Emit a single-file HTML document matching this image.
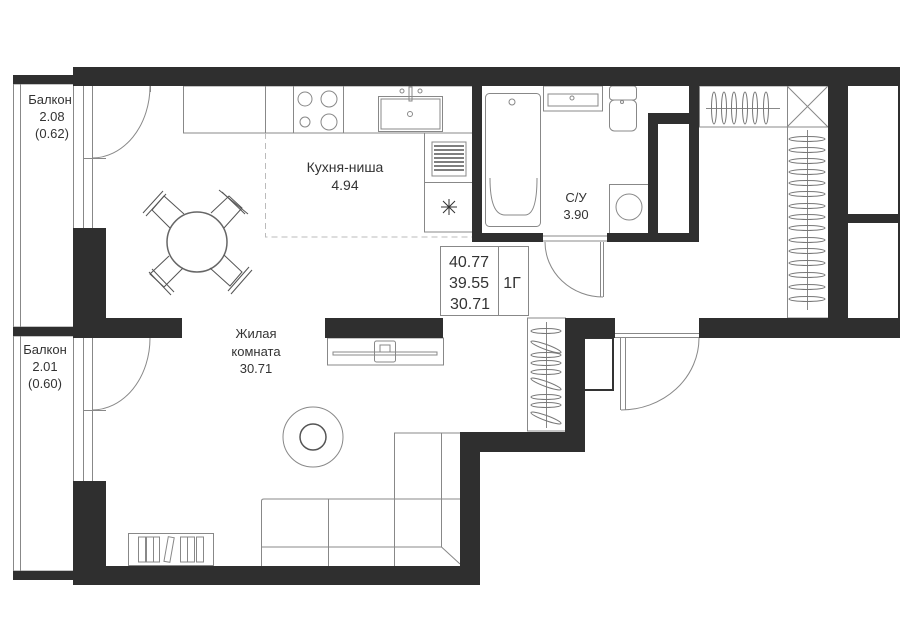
<!DOCTYPE html>
<html><head><meta charset="utf-8"><style>
html,body{margin:0;padding:0;background:#fff;}
svg{display:block;}
text{font-family:"Liberation Sans",sans-serif;fill:#333;text-anchor:middle;}
</style></head><body>
<svg width="900" height="623" viewBox="0 0 900 623" xmlns="http://www.w3.org/2000/svg">
<g fill="none" stroke="#888" stroke-width="1">
<rect x="13.5" y="84" width="60" height="243"/>
<line x1="20.5" y1="84" x2="20.5" y2="327"/>
<rect x="13.5" y="336" width="60" height="235"/>
<line x1="20.5" y1="336" x2="20.5" y2="571"/>
<line x1="83.5" y1="86" x2="83.5" y2="228"/><line x1="92.5" y1="86" x2="92.5" y2="228"/>
<line x1="83" y1="158.5" x2="106" y2="158.5"/>
<line x1="83.5" y1="338" x2="83.5" y2="481"/><line x1="92.5" y1="338" x2="92.5" y2="481"/>
<line x1="83" y1="410.5" x2="106" y2="410.5"/>
<path d="M150 86 A58 72 0 0 1 92 158"/>
<line x1="150.5" y1="86" x2="150.5" y2="92"/>
<path d="M150 338 A58 72 0 0 1 92 410"/>
<rect x="183.5" y="86" width="289" height="47"/>
<line x1="265.5" y1="86" x2="265.5" y2="133"/><line x1="293.5" y1="86" x2="293.5" y2="133"/><line x1="343.5" y1="86" x2="343.5" y2="133"/>
<circle cx="305" cy="99" r="7"/><circle cx="329" cy="99" r="8"/><circle cx="305" cy="122" r="5"/><circle cx="329" cy="122" r="8"/>
<rect x="378.5" y="96.5" width="64" height="35"/><rect x="381" y="99" width="59" height="30"/>
<circle cx="410" cy="114" r="2.5"/><rect x="409" y="87" width="3" height="14"/><circle cx="402" cy="91" r="2"/><circle cx="420" cy="91" r="2"/>
<rect x="424.5" y="133" width="48" height="99"/><line x1="424.5" y1="182.5" x2="472" y2="182.5"/>
<rect x="432" y="142" width="34" height="34"/>
<path d="M434 146H464M434 150H464M434 154H464M434 158H464M434 162H464M434 166H464M434 170H464" stroke="#555" stroke-width="1.5"/>
<path d="M441 207H457M449 199V215M443 201L455 213M455 201L443 213" stroke="#333"/>
<path d="M265.5 133V237H472" stroke-dasharray="6 4" stroke="#bbb"/>
<circle cx="197" cy="242" r="30" stroke="#666" stroke-width="1.5"/>
<g stroke="#555">
<path d="M170 228 L152 210 L164 196 L184 214"/><path d="M146 216 L166 194" /><path d="M143 213 L163 191"/>
<path d="M211 213 L229 196 L242 208 L224 228"/><path d="M222 192 L245 214"/><path d="M219 190 L248 214"/>
<path d="M224 255 L242 272 L230 286 L210 268"/><path d="M249 267 L228 291"/><path d="M252 270 L231 294"/>
<path d="M183 268 L164 287 L150 274 L169 256"/><path d="M152 269 L174 292"/><path d="M149 272 L171 295"/>
</g>
<rect x="485.5" y="93.5" width="55" height="133" rx="4"/>
<path d="M490 178 Q490 215 505 215 L525 215 Q537 215 537 178"/>
<circle cx="512" cy="102" r="3"/>
<rect x="543.5" y="86" width="59" height="25"/><rect x="548" y="94" width="50" height="12"/><circle cx="572" cy="98" r="2"/>
<rect x="609.5" y="86" width="27" height="14" rx="3"/><rect x="609.5" y="100" width="27" height="31" rx="5"/><circle cx="622" cy="102" r="1.5"/>
<rect x="609.5" y="184.5" width="39" height="49"/><circle cx="629" cy="207" r="13"/>
<path d="M543 236H607M543 241H607"/>
<line x1="603.5" y1="242" x2="603.5" y2="297"/><line x1="600.5" y1="242" x2="600.5" y2="297"/>
<path d="M545 242 A58 55 0 0 0 603 297"/>
<rect x="440.5" y="246.5" width="88" height="69"/><line x1="498.5" y1="246" x2="498.5" y2="315"/>
<rect x="699.5" y="86" width="88" height="41"/>
<line x1="706" y1="108.5" x2="780" y2="108.5"/>
<g stroke="#777"><ellipse cx="714" cy="108" rx="2.5" ry="16"/><ellipse cx="724" cy="108" rx="2.5" ry="16"/><ellipse cx="734" cy="108" rx="2.5" ry="16"/><ellipse cx="745" cy="108" rx="2.5" ry="16"/><ellipse cx="755" cy="108" rx="2.5" ry="16"/><ellipse cx="766" cy="108" rx="2.5" ry="16"/></g>
<rect x="787.5" y="86" width="41" height="41"/><path d="M787 86L828 127M828 86L787 127"/>
<rect x="787.5" y="127" width="41" height="191"/>
<line x1="807.5" y1="130" x2="807.5" y2="310"/>
<g stroke="#777">
<ellipse cx="807" cy="139" rx="18" ry="2.5"/><ellipse cx="807" cy="150" rx="18" ry="2.5"/><ellipse cx="807" cy="161" rx="18" ry="2.5"/><ellipse cx="807" cy="172" rx="18" ry="2.5"/><ellipse cx="807" cy="183" rx="18" ry="2.5"/><ellipse cx="807" cy="194" rx="18" ry="2.5"/><ellipse cx="807" cy="206" rx="18" ry="2.5"/><ellipse cx="807" cy="217" rx="18" ry="2.5"/><ellipse cx="807" cy="228" rx="18" ry="2.5"/><ellipse cx="807" cy="240" rx="18" ry="2.5"/><ellipse cx="807" cy="251" rx="18" ry="2.5"/><ellipse cx="807" cy="263" rx="18" ry="2.5"/><ellipse cx="807" cy="275" rx="18" ry="2.5"/><ellipse cx="807" cy="287" rx="18" ry="2.5"/><ellipse cx="807" cy="299" rx="18" ry="2.5"/>
</g>
<rect x="527.5" y="318" width="38" height="113"/><line x1="546.5" y1="322" x2="546.5" y2="428"/>
<g stroke="#777">
<ellipse cx="546" cy="331" rx="15" ry="2.5"/><ellipse cx="546" cy="347" rx="16" ry="2.5" transform="rotate(20 546 347)"/><ellipse cx="546" cy="355" rx="15" ry="2.5"/><ellipse cx="546" cy="363" rx="15" ry="2.5"/><ellipse cx="546" cy="372" rx="15" ry="2.5"/><ellipse cx="546" cy="384" rx="16" ry="2.5" transform="rotate(20 546 384)"/><ellipse cx="546" cy="397" rx="15" ry="2.5"/><ellipse cx="546" cy="405" rx="15" ry="2.5"/><ellipse cx="546" cy="418" rx="16" ry="2.5" transform="rotate(20 546 418)"/>
</g>
<rect x="584" y="338" width="29" height="52" stroke="#333" stroke-width="2"/>
<path d="M615 333.5H699M615 337.5H699"/>
<line x1="620.5" y1="338" x2="620.5" y2="410"/><line x1="625.5" y1="338" x2="625.5" y2="410"/>
<path d="M621 410 A78 72 0 0 0 699 338"/>
<rect x="327.5" y="338" width="116" height="27"/>
<rect x="333" y="352" width="104" height="3"/><rect x="374.5" y="341" width="21" height="21" rx="2"/><rect x="380" y="345" width="10" height="7"/>
<circle cx="313" cy="437" r="30"/><circle cx="313" cy="437" r="13" stroke="#555" stroke-width="1.5"/>
<path d="M261.5 566V501Q261.5 499 264 499H394.5V433H460"/>
<path d="M261.5 547H441.5L460 564M394.5 499H460M441.5 433V547M328.5 499V566M394.5 499V566"/>
<rect x="128.5" y="533.5" width="85" height="32"/>
<rect x="138.5" y="537" width="7" height="25"/><rect x="146.5" y="537" width="7" height="25"/><rect x="153.5" y="537" width="6" height="25"/><rect x="166" y="537" width="6" height="25" transform="rotate(10 169 550)"/><rect x="180.5" y="537" width="7" height="25"/><rect x="187.5" y="537" width="7" height="25"/><rect x="196.5" y="537" width="7" height="25"/>
</g>
<g fill="#2f2f2f">
<rect x="73" y="67" width="827" height="19"/>
<rect x="13" y="75" width="60" height="9"/>
<rect x="13" y="327" width="60" height="9"/>
<rect x="13" y="571" width="60" height="9"/>
<rect x="73" y="228" width="33" height="110"/>
<rect x="73" y="318" width="109" height="20"/>
<rect x="325" y="318" width="118" height="20"/>
<rect x="73" y="481" width="33" height="104"/>
<rect x="73" y="566" width="407" height="19"/>
<rect x="460" y="433" width="20" height="152"/>
<rect x="460" y="432" width="125" height="20"/>
<rect x="565" y="318" width="20" height="134"/>
<rect x="565" y="318" width="50" height="20"/>
<rect x="699" y="318" width="201" height="20"/>
<rect x="828" y="86" width="20" height="232"/>
<rect x="848" y="214" width="52" height="9"/>
<rect x="898" y="67" width="2" height="271"/>
<rect x="472" y="86" width="10" height="156"/>
<rect x="472" y="233" width="71" height="9"/>
<rect x="607" y="233" width="92" height="9"/>
<rect x="689" y="86" width="10" height="156"/>
<path d="M648 113H689V124H658V233H648Z"/>
</g>
<g font-size="13">
<text x="50" y="104">Балкон</text><text x="52" y="121">2.08</text><text x="52" y="138">(0.62)</text>
<text x="45" y="354">Балкон</text><text x="45" y="371">2.01</text><text x="45" y="388">(0.60)</text>
<text x="576" y="202">С/У</text><text x="576" y="219">3.90</text>
<text x="256" y="338">Жилая</text><text x="256" y="356">комната</text><text x="256" y="373">30.71</text>
</g>
<g font-size="14">
<text x="345" y="172">Кухня-ниша</text><text x="345" y="190">4.94</text>
</g>
<g font-size="16">
<text x="469" y="267">40.77</text><text x="469" y="288">39.55</text><text x="470" y="309">30.71</text>
<text x="512" y="288">1Г</text>
</g>
</svg>
</body></html>
